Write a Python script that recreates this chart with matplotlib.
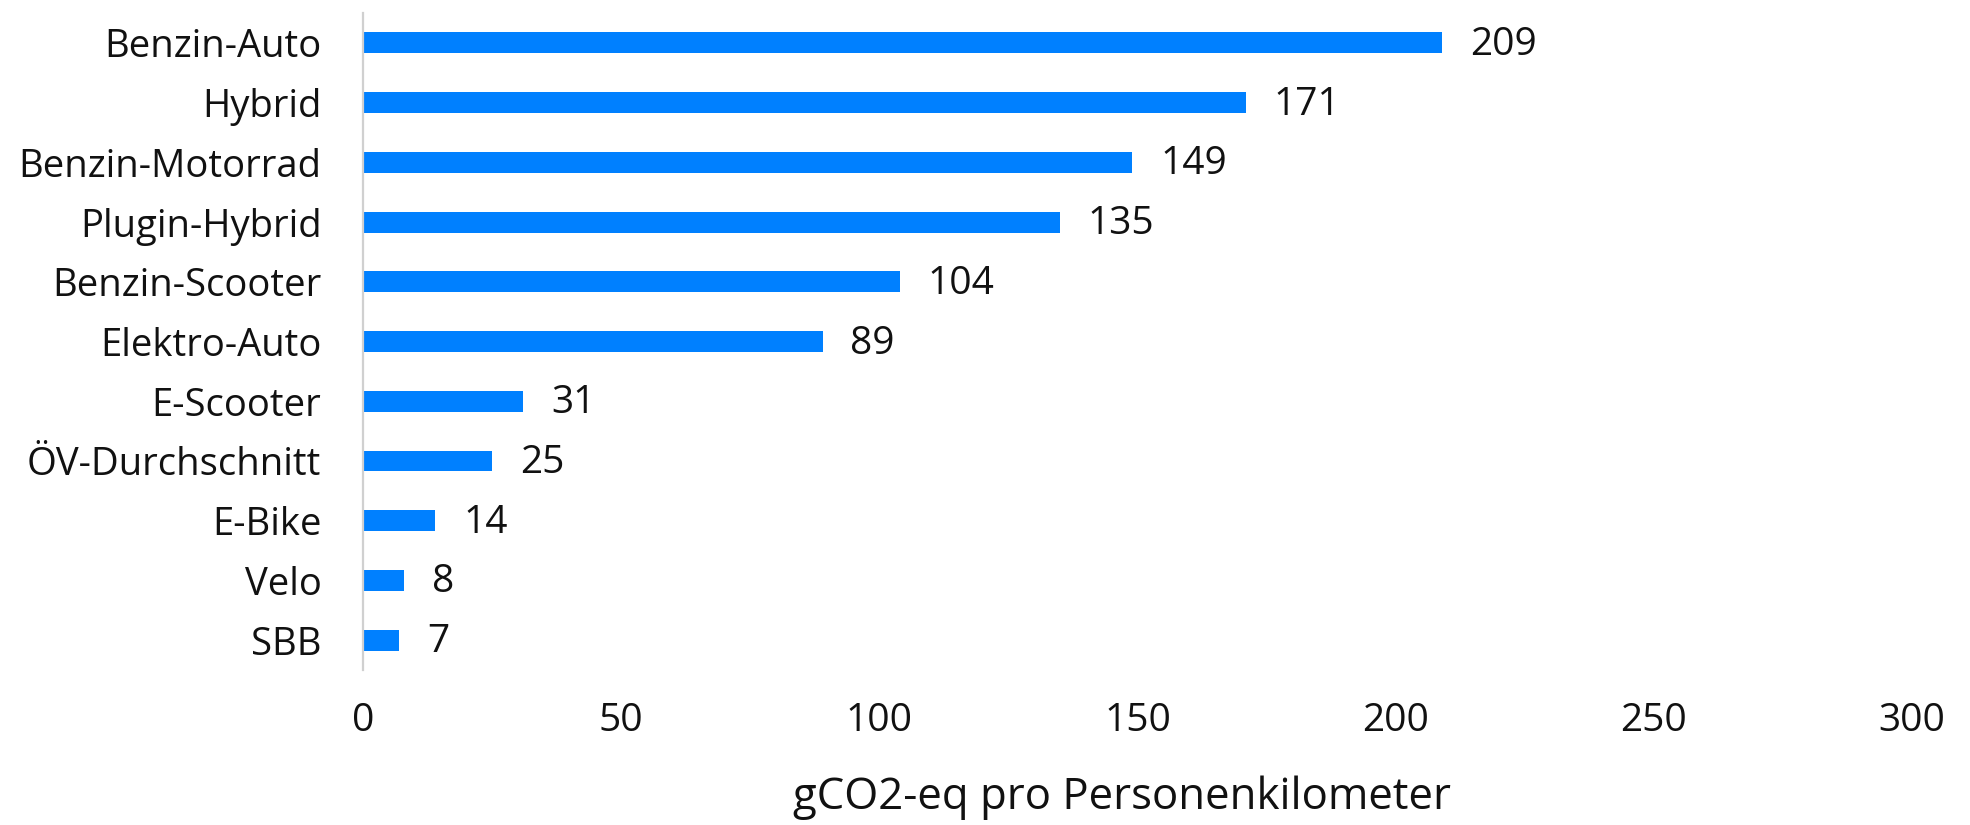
import matplotlib
matplotlib.use("Agg")
import matplotlib.pyplot as plt

# Emissions per passenger-kilometre by mode of transport
modes = ["Benzin-Auto", "Hybrid", "Benzin-Motorrad", "Plugin-Hybrid", "Benzin-Scooter",
         "Elektro-Auto", "E-Scooter", "ÖV-Durchschnitt", "E-Bike", "Velo", "SBB"]
values = [209, 171, 149, 135, 104, 89, 31, 25, 14, 8, 7]
x_ticks = [0, 50, 100, 150, 200, 250, 300]
x_label = "gCO2-eq pro Personenkilometer"

plt.rcParams["font.family"] = ["Open Sans", "DejaVu Sans"]

fig = plt.figure(figsize=(19.7, 8.25), dpi=100)
ax = fig.add_axes([0.1843, 0.1879, 0.7863, 0.7963])

pos = list(range(len(modes)))
bars = ax.barh(pos, values, height=0.35, color="#0080ff")
ax.set_ylim(len(modes) - 0.5, -0.5)
ax.set_xlim(0, 300)

for b, v in zip(bars, values):
    ax.annotate(str(v), xy=(b.get_width(), b.get_y() + b.get_height() / 2),
                xytext=(20, -1.5), textcoords="offset points",
                ha="left", va="center", fontsize=28, color="#111111")

ax.set_yticks(pos)
ax.set_yticklabels(modes, fontsize=27.5, color="#111111")
ax.set_xticks(x_ticks)
ax.set_xticklabels([str(t) for t in x_ticks], fontsize=28, color="#111111")
ax.tick_params(axis="both", length=0)
ax.tick_params(axis="x", pad=23)
ax.tick_params(axis="y", pad=30)

for side in ("top", "right", "bottom"):
    ax.spines[side].set_visible(False)
ax.spines["left"].set_color("#d0d0d0")
ax.spines["left"].set_linewidth(1.6)

ax.set_xlabel(x_label, fontsize=31.5, color="#111111")
ax.xaxis.set_label_coords(0.49, -0.161)

fig.savefig("out.png", dpi=100, facecolor="white")
